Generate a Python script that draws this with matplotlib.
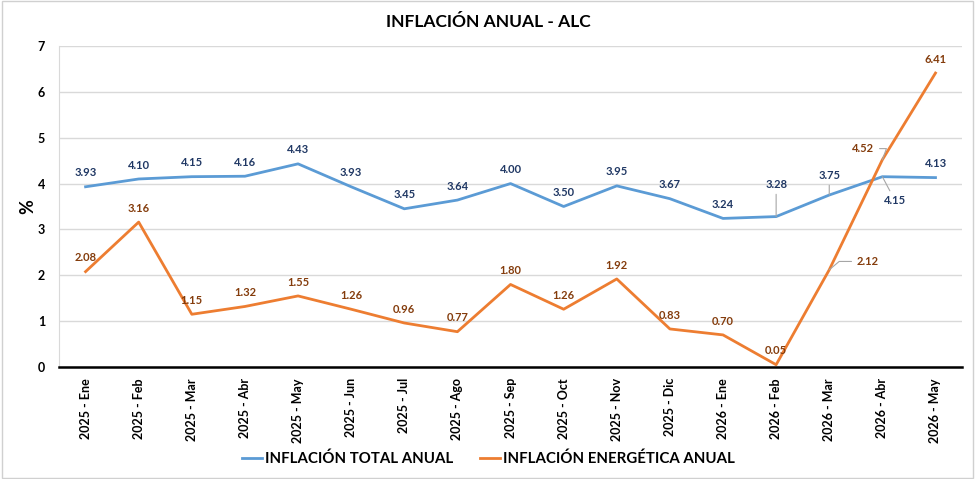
import matplotlib
matplotlib.use("Agg")
import matplotlib.pyplot as plt
from matplotlib.patches import Rectangle

plt.rcParams['font.family'] = ['Lato', 'DejaVu Sans']

categories = ["2025 - Ene", "2025 - Feb", "2025 - Mar", "2025 - Abr", "2025 - May",
              "2025 - Jun", "2025 - Jul", "2025 - Ago", "2025 - Sep", "2025 - Oct",
              "2025 - Nov", "2025 - Dic", "2026 - Ene", "2026 - Feb", "2026 - Mar",
              "2026 - Abr", "2026 - May"]
total = [3.93, 4.10, 4.15, 4.16, 4.43, 3.93, 3.45, 3.64, 4.00, 3.50, 3.95, 3.67,
         3.24, 3.28, 3.75, 4.15, 4.13]
energia = [2.08, 3.16, 1.15, 1.32, 1.55, 1.26, 0.96, 0.77, 1.80, 1.26, 1.92, 0.83,
           0.70, 0.05, 2.12, 4.52, 6.41]
yticks = [0, 1, 2, 3, 4, 5, 6, 7]

BLUE = "#5B9BD5"
ORANGE = "#ED7D31"
BLUE_TXT = "#203864"
ORANGE_TXT = "#843C0C"

fig = plt.figure(figsize=(9.77, 4.79), dpi=100)
fig.patches.append(Rectangle((0.002, 0.003), 0.994, 0.994, transform=fig.transFigure,
                             fill=False, edgecolor="#D0D0D0", linewidth=1.0))
ax = fig.add_axes([0.0604, 0.2338, 0.9243, 0.6702])

x = list(range(len(categories)))
ax.plot(x, total, color=BLUE, linewidth=2.0, label="INFLACIÓN TOTAL ANUAL")
ax.plot(x, energia, color=ORANGE, linewidth=2.0, label="INFLACIÓN ENERGÉTICA ANUAL")

ax.set_xlim(-0.5, len(categories) - 0.5)
ax.set_ylim(0, 7)
ax.set_yticks(yticks)
ax.set_yticklabels([str(v) for v in yticks], fontsize=9, fontweight="bold")
ax.set_xticks(x)
ax.set_xticklabels(categories, rotation=90, fontsize=9, fontweight="bold")
ax.tick_params(axis="both", length=0)
ax.tick_params(axis="y", pad=10)
ax.tick_params(axis="x", pad=8)
ax.grid(axis="y", color="#D9D9D9", linewidth=1.0)
ax.set_axisbelow(True)
for s in ["top", "right"]:
    ax.spines[s].set_visible(False)
ax.spines["left"].set_color("#D9D9D9")
ax.spines["bottom"].set_color("black")
ax.spines["bottom"].set_linewidth(1.8)

ax.set_ylabel("%", fontsize=13, fontweight="bold", labelpad=1)
fig.text(0.5, 0.955, "INFLACIÓN ANUAL - ALC", ha="center", va="center",
         fontsize=12.5, fontweight="bold")

lw_lead = 0.8
lead_col = "#A6A6A6"
# total labels
for i, v in enumerate(total):
    txt = f"{v:.2f}"
    if i == 13:
        ax.annotate(txt, (i, v), xytext=(0, 23), textcoords="offset points", ha="center",
                    va="center", fontsize=8, fontweight="bold", color=BLUE_TXT,
                    arrowprops=dict(arrowstyle="-", color=lead_col, lw=lw_lead, shrinkA=1, shrinkB=0))
    elif i == 14:
        ax.annotate(txt, (i, v), xytext=(0, 14), textcoords="offset points", ha="center",
                    va="center", fontsize=8, fontweight="bold", color=BLUE_TXT,
                    arrowprops=dict(arrowstyle="-", color=lead_col, lw=lw_lead, shrinkA=1, shrinkB=0))
    elif i == 15:
        ax.annotate(txt, (i, v), xytext=(9, -17), textcoords="offset points", ha="center",
                    va="center", fontsize=8, fontweight="bold", color=BLUE_TXT,
                    arrowprops=dict(arrowstyle="-", color=lead_col, lw=lw_lead, shrinkA=1, shrinkB=0))
    else:
        ax.annotate(txt, (i, v), xytext=(0, 10), textcoords="offset points", ha="center",
                    va="center", fontsize=8, fontweight="bold", color=BLUE_TXT)

# energy labels
for i, v in enumerate(energia):
    txt = f"{v:.2f}"
    if i == 14:
        ax.annotate(txt, (i, v), xytext=(28, 6), textcoords="offset points", ha="center",
                    va="center", fontsize=8, fontweight="bold", color=ORANGE_TXT,
                    arrowprops=dict(arrowstyle="-", color=lead_col, lw=lw_lead, shrinkA=2,
                                    shrinkB=0, connectionstyle="angle,angleA=0,angleB=40,rad=0"))
    elif i == 15:
        ax.annotate(txt, (i, v), xytext=(-14, 8), textcoords="offset points", ha="center",
                    va="center", fontsize=8, fontweight="bold", color=ORANGE_TXT,
                    arrowprops=dict(arrowstyle="-", color=lead_col, lw=lw_lead, shrinkA=2,
                                    shrinkB=0, connectionstyle="angle,angleA=0,angleB=70,rad=0"))
    else:
        ax.annotate(txt, (i, v), xytext=(0, 10), textcoords="offset points", ha="center",
                    va="center", fontsize=8, fontweight="bold", color=ORANGE_TXT)

leg = fig.legend(loc="center", bbox_to_anchor=(0.5, 0.042), ncol=2, frameon=False,
                 prop={"size": 10.8, "weight": "bold"}, handlelength=1.3, handletextpad=0.2,
                 columnspacing=1.8)

fig.savefig("out.png", dpi=100)
